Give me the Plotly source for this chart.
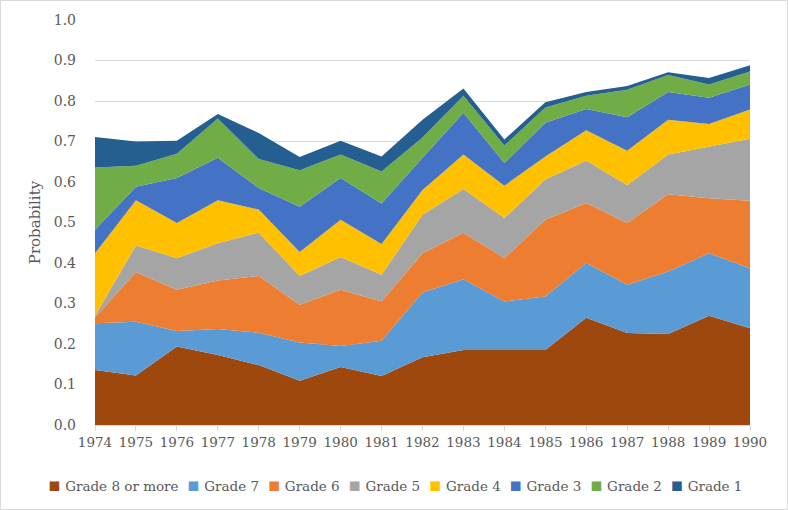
import plotly.graph_objects as go

years = list(range(1974, 1991))

grade_names = ["Grade 8 or more", "Grade 7", "Grade 6", "Grade 5",
               "Grade 4", "Grade 3", "Grade 2", "Grade 1"]

grade8 = [0.136, 0.122, 0.194, 0.173, 0.148, 0.109, 0.143, 0.121, 0.167,
          0.185, 0.185, 0.185, 0.265, 0.227, 0.225, 0.270, 0.239]
grade7 = [0.115, 0.133, 0.038, 0.064, 0.080, 0.095, 0.052, 0.087, 0.160,
          0.175, 0.120, 0.132, 0.135, 0.119, 0.154, 0.154, 0.148]
grade6 = [0.015, 0.122, 0.102, 0.120, 0.140, 0.093, 0.139, 0.097, 0.097,
          0.115, 0.107, 0.190, 0.148, 0.153, 0.191, 0.136, 0.167]
grade5 = [0.004, 0.066, 0.078, 0.092, 0.107, 0.071, 0.081, 0.066, 0.095,
          0.108, 0.099, 0.099, 0.105, 0.093, 0.098, 0.128, 0.153]
grade4 = [0.154, 0.112, 0.087, 0.106, 0.057, 0.059, 0.092, 0.076, 0.061,
          0.085, 0.080, 0.057, 0.075, 0.085, 0.086, 0.055, 0.072]
grade3 = [0.058, 0.033, 0.111, 0.105, 0.053, 0.112, 0.103, 0.100, 0.080,
          0.103, 0.056, 0.083, 0.052, 0.083, 0.068, 0.065, 0.062]
grade2 = [0.154, 0.052, 0.060, 0.097, 0.072, 0.090, 0.058, 0.079, 0.050,
          0.042, 0.043, 0.038, 0.033, 0.068, 0.042, 0.033, 0.032]
grade1 = [0.075, 0.060, 0.032, 0.011, 0.064, 0.033, 0.034, 0.037, 0.044,
          0.018, 0.015, 0.013, 0.009, 0.009, 0.007, 0.016, 0.015]

series = [grade8, grade7, grade6, grade5, grade4, grade3, grade2, grade1]
colors = ["#9E480E", "#5B9BD5", "#ED7D31", "#A5A5A5",
          "#FFC000", "#4472C4", "#70AD47", "#255E91"]

y_ticks = [round(i * 0.1, 1) for i in range(11)]

FONT = "DejaVu Serif"
TXT = "#595959"

fig = go.Figure()
for name, vals, col in zip(grade_names, series, colors):
    fig.add_trace(go.Scatter(
        x=years, y=vals, name=name, stackgroup="one", mode="lines",
        line=dict(width=0, color=col), fillcolor=col, showlegend=False,
        hoverinfo="x+y+name"))

W, H = 788, 510
ml, mr, mt, mb = 95, 38, 20, 85
pw, ph = W - ml - mr, H - mt - mb

fig.update_layout(
    width=W, height=H,
    margin=dict(l=ml, r=mr, t=mt, b=mb, autoexpand=False),
    paper_bgcolor="white", plot_bgcolor="white",
    font=dict(family=FONT, size=14, color=TXT),
    showlegend=False,
    xaxis=dict(range=[1974, 1990], tickvals=years, ticktext=[str(y) for y in years],
               showgrid=False, zeroline=False, showline=True, automargin=False,
               linecolor="#D9D9D9", linewidth=1,
               ticks="outside", ticklen=5, tickcolor="#D9D9D9",
               tickfont=dict(family=FONT, size=13.5, color=TXT)),
    yaxis=dict(range=[0, 1], tickvals=y_ticks, ticktext=[f"{v:.1f}" for v in y_ticks],
               showgrid=True, gridcolor="#D9D9D9", gridwidth=1, automargin=False,
               zeroline=False, showline=False, ticks="",
               ticklabelstandoff=18,
               tickfont=dict(family=FONT, size=14, color=TXT),
               title=dict(text="Probability", standoff=9,
                          font=dict(family=FONT, size=15, color=TXT))),
)

# Excel-style single-row legend (colored squares + series names)
legend_parts = [
    f"<span style='color:{col};font-family:DejaVu Sans;font-size:19px'>&#9642;</span>&nbsp;{name}"
    for name, col in zip(grade_names, colors)
]
fig.add_annotation(
    text="&nbsp;&nbsp;".join(legend_parts),
    xref="paper", yref="paper",
    x=(395 - ml) / pw, y=(H - mb - 484) / ph,
    xanchor="center", yanchor="middle", showarrow=False,
    font=dict(family=FONT, size=13.5, color=TXT))

fig.add_shape(type="rect", xref="paper", yref="paper",
              x0=(0.5 - ml) / pw, x1=(W - 0.5 - ml) / pw,
              y0=(H - mb - (H - 0.5)) / ph, y1=(H - mb - 0.5) / ph,
              line=dict(color="#D9D9D9", width=1), fillcolor="rgba(0,0,0,0)",
              layer="below")

fig.write_html("out.html", config={"displayModeBar": False},
               post_script="document.body.style.margin='0';document.body.style.overflow='hidden';")
